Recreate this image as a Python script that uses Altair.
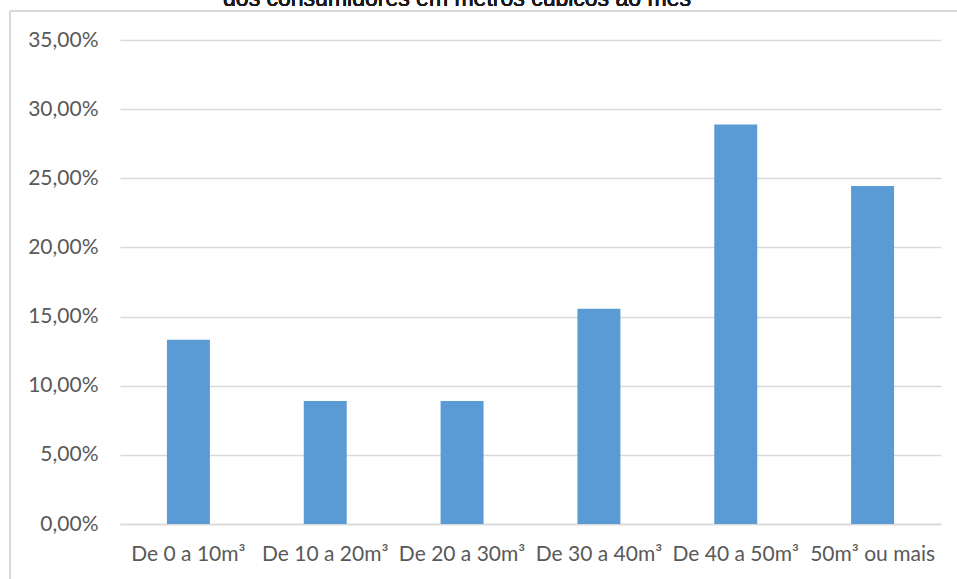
import altair as alt
import pandas as pd

# Consumption classes and share of consumers in each
faixas = ["De 0 a 10m³", "De 10 a 20m³", "De 20 a 30m³", "De 30 a 40m³", "De 40 a 50m³", "50m³ ou mais"]
percentuais = [0.1333, 0.0889, 0.0889, 0.1556, 0.2889, 0.2444]
titulo = "dos consumidores em metros cúbicos ao mês"

df = pd.DataFrame({"faixa": faixas, "pct": percentuais})

W, H = 821, 484
PAD = {"left": 120, "top": 40, "right": 16, "bottom": 55}

base = alt.Chart(df)

bars = base.mark_bar(color="#5B9BD5").encode(
    x=alt.X(
        "faixa:N",
        sort=faixas,
        title=None,
        scale=alt.Scale(paddingInner=0.686, paddingOuter=0.343),
        axis=alt.Axis(
            labelAngle=0,
            labelFont="Lato",
            labelFontSize=21,
            labelColor="#595959",
            labelPadding=19,
            ticks=False,
            domain=True,
            domainColor="#D9D9D9",
            domainWidth=1.5,
            grid=False,
            labelOverlap=False,
            labelLimit=0,
        ),
    ),
    y=alt.Y(
        "pct:Q",
        title=None,
        scale=alt.Scale(domain=[0, 0.35], nice=False),
        axis=alt.Axis(
            values=[0, 0.05, 0.10, 0.15, 0.20, 0.25, 0.30, 0.35],
            labelExpr="replace(format(datum.value, '.2%'), '.', ',')",
            labelFont="Lato",
            labelFontSize=21,
            labelColor="#595959",
            labelPadding=22,
            ticks=False,
            domain=False,
            grid=True,
            gridColor="#D9D9D9",
            gridWidth=1.5,
        ),
    ),
)

# Outer frame of the chart area (left and top edges)
frame_left = base.mark_rule(color="#D9D9D9", strokeWidth=1.5).encode(
    x=alt.value(-110), y=alt.value(-29), y2=alt.value(H + PAD["bottom"] + 5)
)
frame_top = base.mark_rule(color="#D9D9D9", strokeWidth=1.5).encode(
    x=alt.value(-110), x2=alt.value(W + PAD["right"] + 5), y=alt.value(-29)
)

title_text = base.mark_text(
    font="Liberation Sans", fontSize=23, fontWeight="normal", color="#1A1A1A",
    align="center", baseline="alphabetic"
).encode(x=alt.value(337), y=alt.value(-34), text=alt.value(titulo))

chart = (
    alt.layer(frame_left, frame_top, title_text, bars)
    .properties(width=W, height=H, padding=PAD, autosize=alt.AutoSizeParams(type="none"))
    .configure_view(stroke=None)
)

chart.save("out.html", embed_options={"renderer": "svg", "actions": False})
